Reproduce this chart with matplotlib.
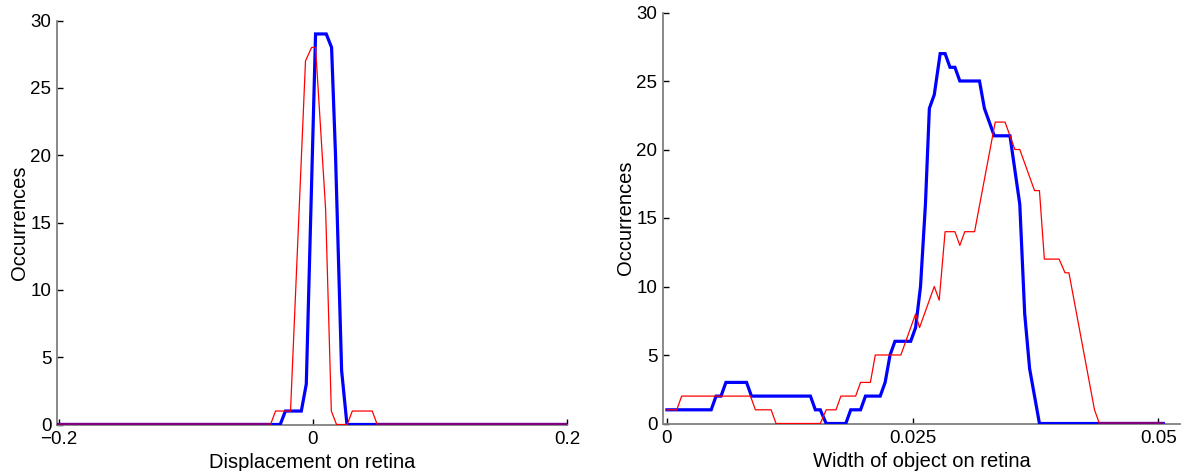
import numpy as np
import matplotlib
matplotlib.use("Agg")
import matplotlib.pyplot as plt

plt.rcParams["font.family"] = ["Liberation Sans", "DejaVu Sans"]

# ---------------- left panel: displacement on retina ----------------
disp_blue_x = [-0.2, -0.0256, -0.0215, -0.0090, -0.0051, 0.0022, 0.0106,
               0.0148, 0.0179, 0.0227, 0.0269, 0.2]
disp_blue_y = [0, 0, 1, 1, 3, 29, 29, 28, 20, 4, 0, 0]

disp_red_x = [-0.2, -0.0332, -0.0293, -0.0175, -0.0057, -0.0009, 0.0022,
              0.0101, 0.0146, 0.0187, 0.0271, 0.0311, 0.0468, 0.0507, 0.2]
disp_red_y = [0, 0, 1, 1, 27, 28, 28, 16, 1, 0, 0, 1, 1, 0, 0]

# ---------------- right panel: width of object on retina ----------------
width_blue_x = [0.0, 0.0045, 0.0050, 0.0055, 0.0060, 0.0081, 0.0086, 0.0146,
                0.0151, 0.0156, 0.0162, 0.0182, 0.0187, 0.0197, 0.0202, 0.0217,
                0.0222, 0.0227, 0.0232, 0.0248, 0.0253, 0.0258, 0.0263, 0.0267,
                0.0272, 0.0278, 0.0283, 0.0288, 0.0293, 0.0298, 0.0318, 0.0323,
                0.0328, 0.0333, 0.0349, 0.0353, 0.0359, 0.0364, 0.0369, 0.0379,
                0.0505]
width_blue_y = [1, 1, 2, 2, 3, 3, 2, 2,
                1, 1, 0, 0, 1, 1, 2, 2,
                3, 5, 6, 6, 7, 10, 16, 23,
                24, 27, 27, 26, 26, 25, 25, 23,
                22, 21, 21, 19, 16, 8, 4, 0,
                0]

width_red_x = [0.0, 0.0010, 0.0015, 0.0085, 0.0090, 0.0106, 0.0111, 0.0156,
               0.0162, 0.0172, 0.0177, 0.0192, 0.0197, 0.0207, 0.0212, 0.0238,
               0.0253, 0.0257, 0.0272, 0.0277, 0.0283, 0.0293, 0.0298, 0.0303,
               0.0313, 0.0334, 0.0344, 0.0354, 0.0359, 0.0374, 0.0379, 0.0384,
               0.0399, 0.0405, 0.0409, 0.0435, 0.0440, 0.0505]
width_red_y = [1, 1, 2, 2, 1, 1, 0, 0,
               1, 1, 2, 2, 3, 3, 5, 5,
               8, 7, 10, 9, 14, 14, 13, 14,
               14, 22, 22, 20, 20, 17, 17, 12,
               12, 11, 11, 1, 0, 0]

BLUE = "#0000ff"
RED = "#ff0000"
PURPLE = "#800080"
GREY = "#808080"


def draw(ax, bx, by, rx, ry):
    ax.plot(bx, by, color=BLUE, lw=2.3, solid_joinstyle="miter", zorder=3)
    ax.plot(rx, ry, color=RED, lw=0.9, zorder=4)
    # where both series sit at zero the lines blend into purple
    xs = np.linspace(min(bx[0], rx[0]), max(bx[-1], rx[-1]), 4000)
    b = np.interp(xs, bx, by)
    r = np.interp(xs, rx, ry)
    both = np.where((b == 0) & (r == 0), 0.0, np.nan)
    ax.plot(xs, both, color=PURPLE, lw=2.3, zorder=5, solid_capstyle="butt")

    for s in ("top", "right"):
        ax.spines[s].set_visible(False)
    for s in ("left", "bottom"):
        ax.spines[s].set_color(GREY)
        ax.spines[s].set_linewidth(1.3)
    ax.tick_params(direction="in", length=4, width=1, color="black",
                   labelsize=13.5, pad=4)
    ax.tick_params(axis="x", pad=5)
    ax.set_ylim(0, 30)
    ax.set_yticks([0, 5, 10, 15, 20, 25, 30])
    ax.set_ylabel("Occurrences", fontsize=14.5, labelpad=1)


fig = plt.figure(figsize=(11.91, 4.71), dpi=100)

ax1 = fig.add_axes([57 / 1191, 46.5 / 471, 510 / 1191, 404 / 471])
draw(ax1, disp_blue_x, disp_blue_y, disp_red_x, disp_red_y)
ax1.set_xlim(-0.2012, 0.2)
ax1.set_xticks([-0.2, 0, 0.2])
ax1.set_xticklabels(["\u22120.2", "0", "0.2"])
ax1.set_xlabel("Displacement on retina", fontsize=14.5, labelpad=3)

ax2 = fig.add_axes([663 / 1191, 47.5 / 471, 517 / 1191, 411 / 471])
draw(ax2, width_blue_x, width_blue_y, width_red_x, width_red_y)
ax2.set_xlim(-0.0004, 0.0522)
ax2.set_xticks([0, 0.025, 0.05])
ax2.set_xticklabels(["0", "0.025", "0.05"])
ax2.set_xlabel("Width of object on retina", fontsize=14.5, labelpad=3)

fig.savefig("out.png", dpi=100)
